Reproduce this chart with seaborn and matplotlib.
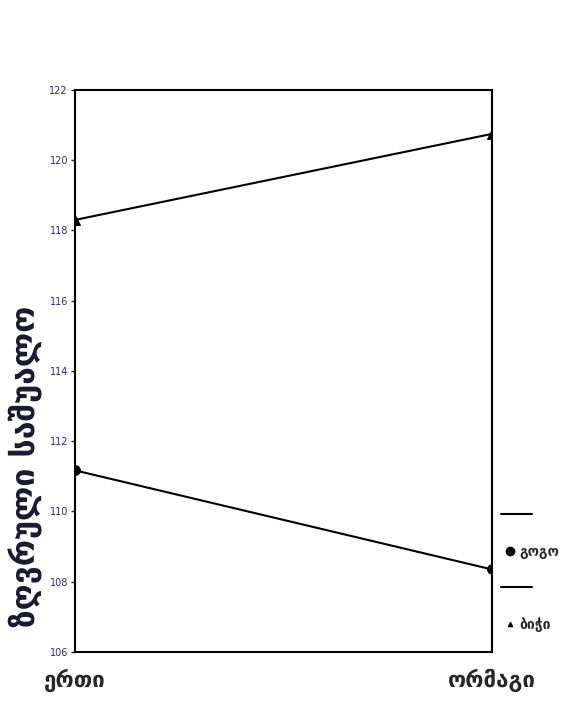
import matplotlib
matplotlib.use("Agg")
import matplotlib.pyplot as plt
from matplotlib.lines import Line2D
from matplotlib.legend_handler import HandlerBase
import seaborn as sns
import pandas as pd

# Estimated marginal means by condition and sex
conditions = ["ერთი", "ორმაგი"]
sexes = ["გოგო", "ბიჭი"]
girl_means = [111.17, 108.35]
boy_means = [118.30, 120.75]
y_ticks = [106, 108, 110, 112, 114, 116, 118, 120, 122]

df = pd.DataFrame({
    "condition": conditions * 2,
    "sex": [sexes[0]] * 2 + [sexes[1]] * 2,
    "mean": girl_means + boy_means,
})

sns.set_style("white")
plt.rcParams["font.family"] = ["DejaVu Sans"]

fig = plt.figure(figsize=(5.87, 7.04), dpi=100)
ax = fig.add_axes([0.1278, 0.0739, 0.7103, 0.7983])

sns.lineplot(
    data=df, x="condition", y="mean", hue="sex", style="sex",
    palette={sexes[0]: "black", sexes[1]: "black"},
    markers={sexes[0]: "o", sexes[1]: "^"}, dashes=False,
    markersize=7, linewidth=1.5, legend=False, ax=ax,
    markeredgecolor="black",
)

ax.set_xlim(0, 1)
ax.set_ylim(106, 122)
ax.set_yticks(y_ticks)
ax.set_yticklabels([str(t) for t in y_ticks], fontsize=7, color="#2a2a6a")
ax.set_xticks([0, 1])
ax.set_xticklabels(conditions, fontsize=16, fontweight="bold")
ax.tick_params(axis="y", direction="out", length=3, width=1, pad=2, left=True)
ax.tick_params(axis="x", length=0, pad=12)
for s in ax.spines.values():
    s.set_visible(True)
    s.set_linewidth(1.5)
    s.set_color("black")

ax.set_xlabel("")
ax.set_ylabel("ზღვრული საშუალო", fontsize=23, fontweight="bold",
              color="#1a1a2e")
ax.yaxis.set_label_coords(-0.076, 0.33)


class LongLine(HandlerBase):
    """Legend separator: a plain line wider than the handle box."""
    def create_artists(self, legend, orig_handle, xdescent, ydescent,
                       width, height, fontsize, trans):
        y = height / 2 - ydescent
        line = Line2D([-xdescent - 2, -xdescent + width * 2.4], [y, y],
                      color="black", lw=1.5, transform=trans)
        return [line]


sep1 = Line2D([], [], color="black")
sep2 = Line2D([], [], color="black")
handles = [
    sep1,
    Line2D([], [], color="black", marker="o", ls="none", markersize=6),
    sep2,
    Line2D([], [], color="black", marker="^", ls="none", markersize=3),
]
labels = ["", sexes[0], "", sexes[1]]
fig.legend(
    handles, labels, loc="upper left", bbox_to_anchor=(0.858, 0.278),
    frameon=False, handlelength=0.85, handletextpad=0.3, labelspacing=1.6,
    borderpad=0, borderaxespad=0,
    prop={"size": 10, "weight": "bold"},
    handler_map={sep1: LongLine(), sep2: LongLine()},
)

fig.savefig("out.png", dpi=100)
